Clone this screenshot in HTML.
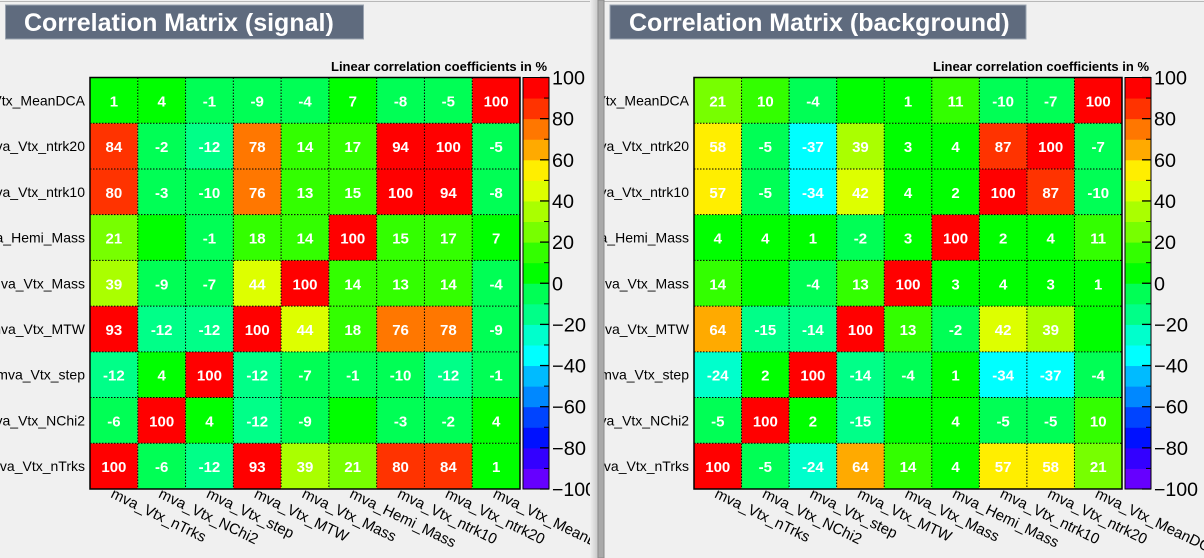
<!DOCTYPE html>
<html><head><meta charset="utf-8">
<style>
html,body{margin:0;padding:0;background:#f0f0f0;}
svg{display:block;font-family:"Liberation Sans",sans-serif;}
</style></head>
<body>
<svg id="chart" width="1204" height="558" viewBox="0 0 1204 558" xmlns="http://www.w3.org/2000/svg">
<defs>
<clipPath id="clipL"><rect x="0" y="0" width="593" height="558"/></clipPath>
<clipPath id="clipR"><rect x="604" y="0" width="600" height="558"/></clipPath>
<linearGradient id="shadow" x1="0" x2="1"><stop offset="0" stop-color="#f0f0f0"/><stop offset="1" stop-color="#c8c8c8"/></linearGradient>
</defs>
<rect x="0" y="0" width="1204" height="558" fill="#f0f0f0"/>
<line x1="0" y1="1.5" x2="1204" y2="1.5" stroke="#b8b8b8" stroke-width="1"/>
<g id="left" clip-path="url(#clipL)"></g>
<g id="right" clip-path="url(#clipR)"></g>
<rect x="590" y="0" width="8" height="558" fill="url(#shadow)"/>
<rect x="598" y="0" width="6" height="558" fill="#a9a9a9" stroke="#8a8a8a" stroke-width="1"/>
</svg>
<script>
const varNames = ["mva_Vtx_nTrks","mva_Vtx_NChi2","mva_Vtx_step","mva_Vtx_MTW","mva_Vtx_Mass","mva_Hemi_Mass","mva_Vtx_ntrk10","mva_Vtx_ntrk20","mva_Vtx_MeanDCA"];
// rows listed bottom (nTrks) to top (MeanDCA); columns in varNames order
const signalRows = [
 [100,-6,-12,93,39,21,80,84,1],
 [-6,100,4,-12,-9,0,-3,-2,4],
 [-12,4,100,-12,-7,-1,-10,-12,-1],
 [93,-12,-12,100,44,18,76,78,-9],
 [39,-9,-7,44,100,14,13,14,-4],
 [21,0,-1,18,14,100,15,17,7],
 [80,-3,-10,76,13,15,100,94,-8],
 [84,-2,-12,78,14,17,94,100,-5],
 [1,4,-1,-9,-4,7,-8,-5,100]
];
const backgroundRows = [
 [100,-5,-24,64,14,4,57,58,21],
 [-5,100,2,-15,0,4,-5,-5,10],
 [-24,2,100,-14,-4,1,-34,-37,-4],
 [64,-15,-14,100,13,-2,42,39,0],
 [14,0,-4,13,100,3,4,3,1],
 [4,4,1,-2,3,100,2,4,11],
 [57,-5,-34,42,4,2,100,87,-10],
 [58,-5,-37,39,3,4,87,100,-7],
 [21,10,-4,0,1,11,-10,-7,100]
];
const colorTicks = [100,80,60,40,20,0,-20,-40,-60,-80,-100];
const titles = ["Correlation Matrix (signal)","Correlation Matrix (background)"];
const palette = ["#6600ff","#3300ff","#0011ff","#0044ff","#0088ff","#00bbff","#00ffff","#00ffcc","#00ff88","#00ff55",
                 "#00ff00","#33ff00","#77ff00","#aaff00","#ddff00","#ffee00","#ffaa00","#ff7700","#ff3300","#ff0000"];
const NS="http://www.w3.org/2000/svg";
function mk(tag,attrs,parent){const e=document.createElementNS(NS,tag);for(const k in attrs)e.setAttribute(k,attrs[k]);parent.appendChild(e);return e;}
function colorFor(v){let i=Math.floor((v+100)/10);if(i<0)i=0;if(i>19)i=19;return palette[i];}

function panel(g,rows,cfg,title,key){
  const n=varNames.length, top=77.5, bottom=489, L=cfg.x0, R=cfg.x1;
  const cw=(R-L)/n, ch=(bottom-top)/n;
  const xs=i=>L+i*cw, ys=j=>bottom-(j+1)*ch;
  const tb=mk('rect',{x:cfg.tx,y:5,width:cfg.tw,height:34,fill:'#5f6b7e',stroke:'#9aa3b0','stroke-width':1},g);
  
  
  const tt=mk('text',{x:cfg.ttx,y:31,fill:'#ffffff','font-size':25,'font-weight':'bold'},g);
  tt.textContent=title;
  
  
  const sub=mk('text',{x:R+27,y:71,'text-anchor':'end','font-size':13,'font-weight':'bold',fill:'#000'},g);
  sub.textContent="Linear correlation coefficients in %";
  
  
  for(let j=0;j<n;j++){for(let i=0;i<n;i++){
    const v=rows[j][i];
    const c=mk('rect',{x:xs(i),y:ys(j),width:cw,height:ch,fill:colorFor(v)},g);
    
    
    if(v!==0){
      const t=mk('text',{x:xs(i)+cw/2,y:ys(j)+ch/2+6,'text-anchor':'middle','font-size':15,'font-weight':'bold',fill:'#fff'},g);
      t.textContent=String(v);
      
      
    }
  }}
  for(let i=1;i<n;i++){
    const a=mk('line',{x1:xs(i),y1:top,x2:xs(i),y2:bottom,stroke:'#000','stroke-width':1,'stroke-dasharray':'1.5,1.5'},g);
    
    
    const b=mk('line',{x1:L,y1:ys(i-1),x2:R,y2:ys(i-1),stroke:'#000','stroke-width':1,'stroke-dasharray':'1.5,1.5'},g);
    
    
  }
  const fr=mk('rect',{x:L,y:top,width:R-L,height:bottom-top,fill:'none',stroke:'#000','stroke-width':1.5},g);
  
  
  for(let j=0;j<n;j++){
    const t=mk('text',{x:L-5,y:ys(j)+ch/2+5,'text-anchor':'end','font-size':14,fill:'#000'},g);
    t.textContent=varNames[j];
    
    
  }
  for(let i=0;i<n;i++){
    const x=xs(i)+cw/2-4, y=497;
    const t=mk('text',{x:x,y:y,'font-size':15,fill:'#000',transform:`rotate(26 ${x} ${y})`},g);
    t.textContent=varNames[i];
    
    
  }
  const cbx=R+3, cbw=26, bh=(bottom-top)/20;
  for(let k=0;k<20;k++){
    const r=mk('rect',{x:cbx,y:bottom-(k+1)*bh,width:cbw,height:bh+0.5,fill:palette[k]},g);
    
    
  }
  const cf=mk('rect',{x:cbx,y:top,width:cbw,height:bottom-top,fill:'none',stroke:'#000','stroke-width':1},g);
  
  
  const cy=v=>bottom-(v+100)/200*(bottom-top);
  colorTicks.forEach(v=>{
    const tk=mk('line',{x1:cbx+cbw-9,y1:cy(v),x2:cbx+cbw,y2:cy(v),stroke:'#000','stroke-width':1.3},g);
    
    
    const t=mk('text',{x:cbx+cbw+3,y:cy(v)+7,'font-size':19,fill:'#000',textLength:(v<0?(v===-100?44:34):(v===100?33:(v===0?11:22))),lengthAdjust:'spacingAndGlyphs'},g);
    t.textContent=v<0?'\u2212'+(-v):String(v);
    
    
  });
  for(let k=1;k<20;k++){ if(k%2===1){
    const tk=mk('line',{x1:cbx+cbw-5,y1:bottom-k*bh,x2:cbx+cbw,y2:bottom-k*bh,stroke:'#000','stroke-width':1},g);
    
    
  }}
}
panel(document.getElementById('left'),signalRows,{x0:90,x1:520,tx:5.5,tw:358,ttx:24},titles[0],'signal');
panel(document.getElementById('right'),backgroundRows,{x0:694,x1:1122,tx:610,tw:416,ttx:629},titles[1],'background');
</script>
</body></html>
